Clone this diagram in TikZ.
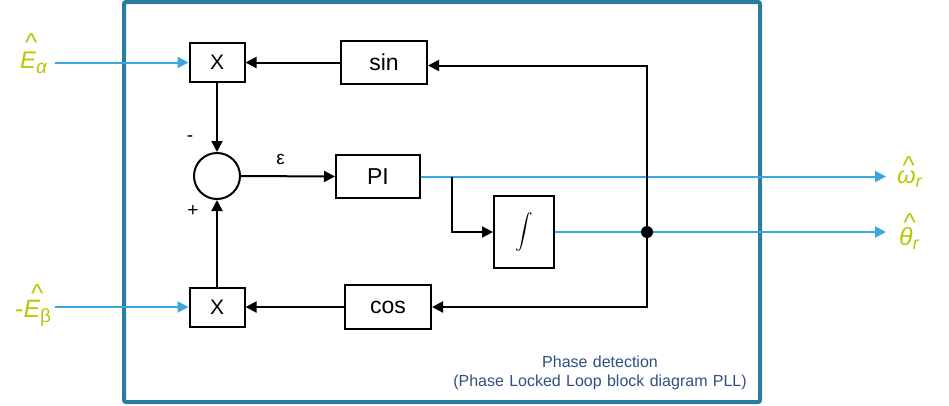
\documentclass[tikz,border=0pt]{standalone}
\usepackage{graphicx}
\usepackage{fontspec}
\setmainfont{Liberation Sans}
\usetikzlibrary{arrows.meta,positioning}
\definecolor{framecol}{HTML}{2B7BA0}
\definecolor{sigcol}{HTML}{3AA8DC}
\definecolor{labcol}{HTML}{B8C800}
\definecolor{notecol}{HTML}{2F5080}
\newcommand{\fs}[1]{\fontsize{#1}{#1}\selectfont}
\newcommand{\hatat}[2]{\rlap{\hspace{#1}\raisebox{#2}{\upshape\fs{26}\^{}}}}
\tikzset{
  blk/.style={draw, line width=2pt, inner sep=0pt, font=\fs{23}},
  sig/.style={line width=2pt, -{Triangle[length=11pt,width=11pt]}},
  bsig/.style={sig, sigcol},
  lab/.style={labcol, inner sep=0pt, anchor=base west},
}

\begin{document}
\begin{tikzpicture}[x=1pt, y=-1pt]
  \useasboundingbox (0,0) rectangle (949,405);

  % frame
  \draw[framecol, line width=4pt, rounded corners=2pt] (124,2) rectangle (760,402);

  % blocks
  \node[blk, minimum width=55pt, minimum height=39pt, font=\fs{21}] (xa) at (217,62.5) {X};
  \node[blk, minimum width=86pt, minimum height=43pt] (sinb) at (384,62.5) {sin};
  \node[draw, line width=2pt, circle, minimum size=46pt, inner sep=0pt] (sum) at (217,176) {};
  \node[blk, minimum width=84pt, minimum height=43pt] (pib) at (378,176.5) {PI};
  \node[blk, minimum width=60pt, minimum height=72pt] (intb) at (524,232) {\resizebox*{!}{39pt}{$\displaystyle\int$}};
  \node[blk, minimum width=86pt, minimum height=44pt] (cosb) at (388,307) {cos};
  \node[blk, minimum width=55pt, minimum height=39pt, font=\fs{21}] (xb) at (217,307) {X};

  % signs
  \node[font=\fs{19}, inner sep=0pt] (minus) at (190,139) {-};
  \node[font=\fs{19}, inner sep=0pt] (plus) at (193,211) {+};
  \node[font=\fs{19}, inner sep=0pt] (eps) at (280.5,159) {ε};

  % points
  \coordinate (ein) at (55,62.5);
  \coordinate (ebin) at (55,307);
  \coordinate (br) at (452,176.5);
  \coordinate (fb) at (647,232);
  \coordinate (omend) at (886,176.5);
  \coordinate (thend) at (886,232);

  % inputs and outputs
  \draw[bsig] (ein) -- (xa.west);
  \draw[bsig] (ebin) -- (xb.west);
  \draw[bsig] (pib.east) -- (omend);
  \draw[bsig] (intb.east) -- (thend);

  % loop
  \draw[sig] (sinb.west) -- (xa.east);
  \draw[sig] (xa.south) -- (sum.north);
  \draw[sig] (xb.north) -- (sum.south);
  \draw[sig] (sum.east) -- (pib.west);
  \draw[sig] (br) |- (intb.west);
  \draw[sig] (fb) |- ([yshift=-3pt]sinb.east);
  \draw[sig] (fb) |- (cosb.east);
  \draw[sig] (cosb.west) -- (xb.east);
  \fill (fb) circle (6pt);

  % labels
  \node[lab, font=\fs{24}] (ealpha) at (20,68) {\hatat{4.9pt}{17pt}\itshape E{\fs{19}\raisebox{-5pt}{α}}};
  \node[lab, font=\fs{25}] (ebeta) at (15,317) {-\hatat{7.5pt}{15pt}\itshape E{\upshape\fs{19}\raisebox{-5pt}{β}}};
  \node[lab, font=\fs{24}] (omega) at (897,183) {\hatat{5.4pt}{9pt}\itshape ω{\fs{18}\raisebox{-4pt}{r}}};
  \node[lab, font=\fs{25}] (theta) at (899,245) {\hatat{4.4pt}{14pt}\itshape θ{\fs{18}\raisebox{-4pt}{r}}};

  % caption
  \node[notecol, font=\fs{16}, align=center, text width=340pt, inner sep=0pt] (note) at (600,373)
    {Phase detection\\[3pt](Phase Locked Loop block diagram PLL)};
\end{tikzpicture}
\end{document}
